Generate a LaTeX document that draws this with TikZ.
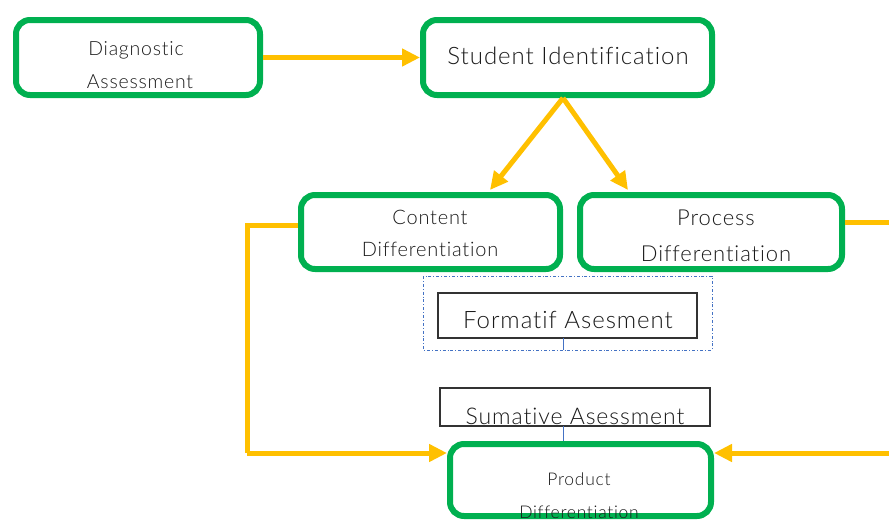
\documentclass[tikz,border=0pt]{standalone}
\usepackage{fontspec}
\setmainfont{Lato Light}[LetterSpace=4, Ligatures=NoCommon]
\usetikzlibrary{arrows.meta}
\definecolor{boxgreen}{HTML}{00B050}
\definecolor{flowyellow}{HTML}{FFC000}
\definecolor{guideblue}{HTML}{4472C4}
\definecolor{txt}{HTML}{1A1A1A}
\tikzset{
  gbox/.style={draw=boxgreen, line width=6pt, rounded corners=14pt, fill=white,
    inner sep=0pt, outer sep=3pt},
  abox/.style={draw=black!80, line width=1.1pt, fill=white, inner sep=0pt, outer sep=0pt},
  flow/.style={draw=flowyellow, line width=5pt},
  flowarrow/.style={flow, -{Triangle[length=18pt,width=17pt]}},
  guide/.style={draw=guideblue, line width=0.8pt},
  lbl/.style={anchor=base, inner sep=0pt, text=txt},
}
\begin{document}
\begin{tikzpicture}[x=1pt,y=-1pt]
\useasboundingbox (0,0) rectangle (889,520);

% green process boxes
\node[gbox, minimum width=244pt, minimum height=75pt] (diag) at (138,57.5) {};
\node[gbox, minimum width=289pt, minimum height=75pt] (stud) at (567.5,57.5) {};
\node[gbox, minimum width=259pt, minimum height=74pt] (cont) at (430.5,232) {};
\node[gbox, minimum width=262pt, minimum height=74pt] (proc) at (711,232) {};
\node[gbox, minimum width=261pt, minimum height=72pt] (prod) at (580.5,480) {};

% dashed frame around the formative assessment
\draw[guide, dash dot] (423,276) rectangle (712,350);
\coordinate (frameb) at (563,350);

% assessment boxes
\node[abox, minimum width=259pt, minimum height=45pt] (form) at (567.5,315.5) {};
\node[abox, minimum width=270pt, minimum height=38pt] (suma) at (575,407) {};

\draw[guide] (form.south -| frameb) -- (frameb);
\draw[guide] (suma.south -| frameb) -- (prod.north -| frameb);

% yellow flow connectors
\draw[flowarrow] (diag.east) -- (stud.west);
\draw[flowarrow] (stud.south -| frameb) -- (490,190);
\draw[flowarrow] (stud.south -| frameb) -- (628,190);
\coordinate (lefttop) at (247,225);
\coordinate (leftbot) at (247,453);
\draw[flow] (cont.west |- lefttop) -- (lefttop) -- (leftbot);
\draw[flowarrow] (leftbot) -- (prod.west |- leftbot);
\coordinate (rightout) at (892,222);
\draw[flow] (proc.east |- rightout) -- (rightout);
\coordinate (rightin) at (892,453);
\draw[flowarrow] (rightin) -- (prod.east |- rightin);

% labels
\node[lbl, font=\fontsize{19.5}{22}\selectfont] (tdiag1) at (136,55) {Diagnostic};
\node[lbl, font=\fontsize{19.5}{22}\selectfont] (tdiag2) at (140,88) {Assessment};
\node[lbl, font=\fontsize{24}{28}\selectfont] (tstud) at (568,64) {Student Identification};
\node[lbl, font=\fontsize{20}{22}\selectfont] (tcont1) at (430,224) {Content};
\node[lbl, font=\fontsize{20}{22}\selectfont] (tcont2) at (430,256) {Differentiation};
\node[lbl, font=\fontsize{22}{24}\selectfont] (tproc1) at (716,225) {Process};
\node[lbl, font=\fontsize{22}{24}\selectfont] (tproc2) at (716,261) {Differentiation};
\node[lbl, font=\fontsize{24}{26}\selectfont] (tform) at (568,328) {Formatif Asesment};
\node[lbl, font=\fontsize{23}{26}\selectfont] (tsuma) at (575,424) {Sumative Asessment};
\node[lbl, font=\fontsize{17.5}{20}\selectfont] (tprod1) at (579,485) {Product};
\node[lbl, font=\fontsize{17.5}{20}\selectfont] (tprod2) at (579,518) {Differentiation};
\end{tikzpicture}
\end{document}
